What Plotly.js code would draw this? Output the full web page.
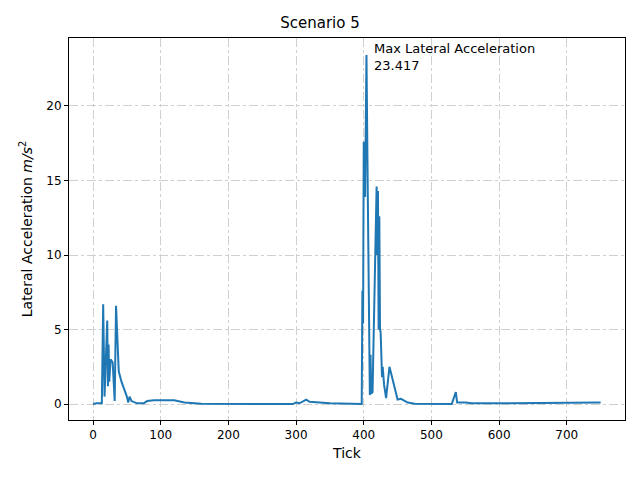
<!DOCTYPE html>
<html>
<head>
<script src="https://cdn.plot.ly/plotly-3.0.1.min.js"></script>
<style>body{margin:0}</style>
</head>
<body>
<div id="plot" style="width:640px;height:480px"></div>
<script>
// ticks and lateral acceleration
let ticks = [0, 5, 13, 15, 17, 21, 22, 23, 24, 26, 29, 32, 34, 38, 42, 46, 50, 52, 54, 57, 65, 75, 80, 90, 120, 135, 160,
    295, 300, 305, 315, 320, 350, 397, 398, 399, 400, 402, 404, 406, 409, 410, 411, 413, 419, 420, 421, 422, 423, 424, 425,
    427, 428, 430, 433, 438, 443, 450, 455, 465, 475, 530, 536, 538, 550, 560, 600, 700, 750];
let accel = [0, 0.05, 0.05, 6.7, 0.5, 5.6, 1.2, 4.0, 1.5, 3.0, 2.8, 0.2, 6.6, 2.2, 1.5, 1.0, 0.5, 0.1, 0.5, 0.2, 0.05, 0.05, 0.2, 0.25, 0.25, 0.1, 0.02,
    0, 0.1, 0.05, 0.3, 0.15, 0.05, 0, 7.6, 5.4, 17.6, 13.9, 23.417, 14.0, 0.6, 3.3, 0.7, 0.8, 14.6, 10, 14.3, 5, 12.6, 5, 4.8,
    1.8, 2.5, 1.3, 0.4, 2.5, 1.5, 0.3, 0.35, 0.1, 0.02, 0, 0.8, 0.1, 0.1, 0.05, 0.05, 0.05, 0.1];
let maxTick = 404, maxVal = 23.417;

let grid = {showgrid: true, gridcolor: '#d0d0d0', griddash: 'dashdot', zeroline: false,
    showline: true, mirror: true, linecolor: '#000', ticks: 'outside', ticklen: 4, tickcolor: '#000'};

Plotly.newPlot('plot', [{
    x: ticks, y: accel, mode: 'lines', line: {color: '#1f77b4', width: 2}
}], {
    width: 640, height: 480,
    margin: {l: 69, r: 15, t: 38, b: 60},
    font: {family: 'DejaVu Sans', size: 12, color: '#000'},
    title: {text: 'Scenario 5', font: {size: 15}, y: 0.952, yanchor: 'middle'},
    showlegend: false,
    plot_bgcolor: '#fff',
    xaxis: Object.assign({range: [-35.5, 786], tickvals: [0, 100, 200, 300, 400, 500, 600, 700],
        title: {text: 'Tick', standoff: 6}}, grid),
    yaxis: Object.assign({range: [-1.07, 24.56], tickvals: [0, 5, 10, 15, 20],
        title: {text: 'Lateral Acceleration <i>m/s</i><sup>2</sup>', standoff: 10}}, grid),
    annotations: [{x: maxTick + 8, y: maxVal + 1.1, xref: 'x', yref: 'y', showarrow: false,
        xanchor: 'left', yanchor: 'top', align: 'left', font: {size: 13},
        text: 'Max Lateral Acceleration<br>' + maxVal}]
}, {displayModeBar: false});
</script>
</body>
</html>
